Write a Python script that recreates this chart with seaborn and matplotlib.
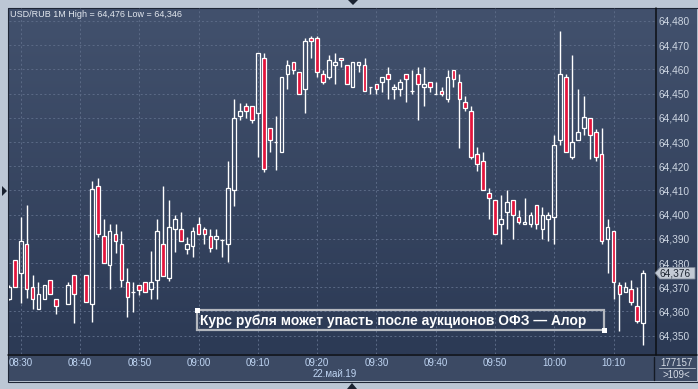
import matplotlib
matplotlib.use("Agg")
import matplotlib.pyplot as plt
import numpy as np
import pandas as pd
import seaborn as sns
from matplotlib.colors import LinearSegmentedColormap
from matplotlib.patches import Rectangle, Polygon

# ---------------- data ----------------
times = [
    "08:28", "08:29", "08:30", "08:31", "08:32", "08:33", "08:34", "08:35", "08:36", "08:38", "08:39",
    "08:41", "08:42", "08:43", "08:44", "08:45", "08:46", "08:47", "08:48", "08:49", "08:50",
    "08:51", "08:52", "08:53", "08:54", "08:55", "08:56", "08:57", "08:58", "08:59", "09:00",
    "09:01", "09:02", "09:03", "09:04", "09:05", "09:06", "09:07", "09:08", "09:09", "09:10",
    "09:11", "09:12", "09:13", "09:14", "09:15", "09:16", "09:17", "09:18", "09:19", "09:20",
    "09:21", "09:22", "09:23", "09:24", "09:25", "09:26", "09:27", "09:28", "09:29", "09:30",
    "09:31", "09:32", "09:33", "09:34", "09:35", "09:36", "09:37", "09:38", "09:39", "09:40",
    "09:41", "09:42", "09:43", "09:44", "09:45", "09:46", "09:47", "09:48", "09:49", "09:50",
    "09:51", "09:52", "09:53", "09:54", "09:55", "09:56", "09:57", "09:58", "09:59", "10:00",
    "10:01", "10:02", "10:03", "10:04", "10:05", "10:06", "10:07", "10:08", "10:09", "10:10",
    "10:11", "10:12", "10:13", "10:14", "10:15",
]
opens = [
    64.3651, 64.3812, 64.3759, 64.3879, 64.3701, 64.3610, 64.3651, 64.3730, 64.3651, 64.3631, 64.3750,
    64.3750, 64.3631, 64.4118, 64.3912, 64.3792, 64.3920, 64.3879, 64.3721, 64.3680, 64.3709,
    64.3721, 64.3693, 64.3730, 64.3879, 64.3738, 64.3940, 64.3940, 64.3858, 64.3870, 64.3961,
    64.3940, 64.3912, 64.3899, 64.3895, 64.3879, 64.4102, 64.4407, 64.4449, 64.4449, 64.4420,
    64.4647, 64.4358, 64.4300, 64.4259, 64.4581, 64.4631, 64.4589, 64.4519, 64.4730, 64.4730,
    64.4581, 64.4569, 64.4618, 64.4647, 64.4618, 64.4527, 64.4618, 64.4618, 64.4527, 64.4540,
    64.4548, 64.4581, 64.4519, 64.4519, 64.4581, 64.4511, 64.4581, 64.4527, 64.4548, 64.4498,
    64.4511, 64.4478, 64.4598, 64.4548, 64.4465, 64.4428, 64.4250, 64.4221, 64.4089, 64.4060,
    64.3961, 64.4011, 64.4060, 64.3990, 64.3961, 64.3961, 64.4040, 64.3940, 64.3982, 64.3990,
    64.4308, 64.4569, 64.4238, 64.4308, 64.4358, 64.4399, 64.4341, 64.4250, 64.3899, 64.3932,
    64.3709, 64.3680, 64.3693, 64.3622, 64.3552,
]
highs = [
    64.3709, 64.3812, 64.3990, 64.4040, 64.3750, 64.3721, 64.3709, 64.3730, 64.3651, 64.3721, 64.3750,
    64.3750, 64.4139, 64.4151, 64.3982, 64.3961, 64.3961, 64.3932, 64.3779, 64.3721, 64.3709,
    64.3721, 64.3850, 64.3982, 64.4118, 64.4060, 64.3998, 64.4011, 64.3907, 64.3949, 64.3990,
    64.3949, 64.3940, 64.3940, 64.3899, 64.4221, 64.4478, 64.4461, 64.4461, 64.4449, 64.4668,
    64.4668, 64.4358, 64.4407, 64.4569, 64.4639, 64.4631, 64.4589, 64.4730, 64.4738, 64.4738,
    64.4598, 64.4660, 64.4668, 64.4647, 64.4618, 64.4631, 64.4631, 64.4647, 64.4527, 64.4540,
    64.4569, 64.4610, 64.4540, 64.4560, 64.4581, 64.4598, 64.4610, 64.4610, 64.4548, 64.4548,
    64.4527, 64.4598, 64.4598, 64.4581, 64.4490, 64.4449, 64.4279, 64.4259, 64.4110, 64.4060,
    64.4081, 64.4102, 64.4060, 64.4019, 64.4069, 64.4011, 64.4040, 64.4031, 64.4011, 64.4329,
    64.4760, 64.4581, 64.4660, 64.4519, 64.4490, 64.4399, 64.4354, 64.4358, 64.3982, 64.3932,
    64.3721, 64.3721, 64.3730, 64.3701, 64.3771,
]
lows = [
    64.3647, 64.3701, 64.3635, 64.3656, 64.3610, 64.3610, 64.3651, 64.3672, 64.3589, 64.3631, 64.3552,
    64.3639, 64.3556, 64.3907, 64.3800, 64.3693, 64.3841, 64.3701, 64.3577, 64.3598, 64.3668,
    64.3680, 64.3651, 64.3651, 64.3746, 64.3726, 64.3845, 64.3891, 64.3837, 64.3825, 64.3920,
    64.3879, 64.3845, 64.3858, 64.3825, 64.3804, 64.4036, 64.4391, 64.4399, 64.4379, 64.4238,
    64.4176, 64.4259, 64.4184, 64.4259, 64.4519, 64.4581, 64.4498, 64.4420, 64.4647, 64.4569,
    64.4540, 64.4560, 64.4540, 64.4610, 64.4540, 64.4527, 64.4589, 64.4511, 64.4498, 64.4498,
    64.4507, 64.4478, 64.4478, 64.4490, 64.4465, 64.4498, 64.4391, 64.4449, 64.4507, 64.4498,
    64.4490, 64.4465, 64.4527, 64.4275, 64.4428, 64.4230, 64.4180, 64.4102, 64.3982, 64.3920,
    64.3879, 64.3940, 64.3899, 64.3961, 64.3961, 64.3949, 64.3940, 64.3899, 64.3891, 64.3879,
    64.4288, 64.4259, 64.4230, 64.4308, 64.4329, 64.4230, 64.4221, 64.3879, 64.3759, 64.3651,
    64.3519, 64.3680, 64.3626, 64.3552, 64.3460,
]
closes = [
    64.3701, 64.3701, 64.3891, 64.3693, 64.3651, 64.3672, 64.3709, 64.3672, 64.3622, 64.3709, 64.3672,
    64.3639, 64.4106, 64.3920, 64.3800, 64.3932, 64.3891, 64.3730, 64.3660, 64.3680, 64.3688,
    64.3680, 64.3721, 64.3932, 64.3746, 64.3949, 64.3982, 64.3891, 64.3879, 64.3932, 64.3920,
    64.3920, 64.3862, 64.3912, 64.3895, 64.4110, 64.4399, 64.4428, 64.4428, 64.4391, 64.4668,
    64.4188, 64.4308, 64.4300, 64.4569, 64.4618, 64.4598, 64.4498, 64.4717, 64.4717, 64.4589,
    64.4548, 64.4639, 64.4631, 64.4639, 64.4540, 64.4631, 64.4631, 64.4511, 64.4527, 64.4519,
    64.4569, 64.4560, 64.4527, 64.4548, 64.4560, 64.4511, 64.4540, 64.4540, 64.4527, 64.4498,
    64.4498, 64.4569, 64.4560, 64.4478, 64.4440, 64.4238, 64.4209, 64.4102, 64.4069, 64.3920,
    64.3982, 64.4052, 64.3998, 64.3969, 64.3969, 64.3998, 64.3961, 64.3998, 64.3998, 64.4288,
    64.4581, 64.4259, 64.4300, 64.4341, 64.4403, 64.4329, 64.4238, 64.3891, 64.3949, 64.3721,
    64.3672, 64.3701, 64.3639, 64.3560, 64.3760,
]

price_ticks = [64.35, 64.36, 64.37, 64.38, 64.39, 64.40, 64.41,
               64.42, 64.43, 64.44, 64.45, 64.46, 64.47, 64.48]
time_ticks = ["08:30", "08:40", "08:50", "09:00", "09:10", "09:20",
              "09:30", "09:40", "09:50", "10:00", "10:10"]
session_start = "08:28"
date_label = "22.май.19"
title_text = "USD/RUB 1M High = 64,476 Low = 64,346"
headline = "Курс рубля может упасть после аукционов ОФЗ — Алор"
last_price = 64.376
volume_text = "177157"
bars_text = ">109<"

# ---------------- style ----------------
sns.set_style("dark")
plt.rcParams["font.family"] = ["Liberation Sans", "DejaVu Sans"]


def minutes(t):
    h, m = t.split(":")
    return int(h) * 60 + int(m)


def fmt(v):
    return f"{v:.3f}".replace(".", ",")


df = pd.DataFrame({"time": times, "open": opens, "high": highs,
                   "low": lows, "close": closes})
df["x"] = df["time"].map(minutes) - minutes(session_start)
df["top"] = df[["open", "close"]].max(axis=1)
df["bot"] = df[["open", "close"]].min(axis=1)
df["up"] = df["close"] >= df["open"]

W, H = 698, 389
fig = plt.figure(figsize=(W / 100, H / 100), dpi=100)
fig.patch.set_facecolor("#bcc7d5")

# background (pixel coordinates)
bg = fig.add_axes([0, 0, 1, 1], zorder=-2)
bg.axis("off")
cmap = LinearSegmentedColormap.from_list("bgc", ["#42516d", "#2c3a55"])
bg.imshow(np.linspace(0, 1, 256).reshape(-1, 1), cmap=cmap,
          extent=(8, 697, 354, 8), aspect="auto", zorder=0)
bg.add_patch(Rectangle((8, 354), 689, 27, facecolor="#3c4a64", edgecolor="none", zorder=1))
bg.add_patch(Rectangle((7.5, 7.5), 690, 374, facecolor="none", edgecolor="#1e2636", lw=0.8, zorder=2))
bg.plot([655.5, 655.5], [8, 354.5], color="#0c0f14", lw=1.1, zorder=3)
bg.plot([8, 697], [354.5, 354.5], color="#0c0f14", lw=1.1, zorder=3)
bg.set_xlim(0, W)
bg.set_ylim(H, 0)

# main chart axes
ax = fig.add_axes([9 / W, 1 - 354 / H, 646 / W, 346 / H], zorder=1)
ax.set_facecolor("none")
ax.set_xlim(0.03, 109.0)
ax.set_ylim(64.34240, 64.48537)
ax.set_axisbelow(True)

tick_x = [minutes(t) - minutes(session_start) for t in time_ticks]
ax.set_xticks(tick_x)
ax.set_xticklabels(time_ticks)
ax.yaxis.tick_right()
ax.set_yticks(price_ticks)
ax.set_yticklabels([fmt(v) for v in price_ticks])
ax.grid(True, color="#5b6a86", lw=0.7, ls=(0, (2, 2.5)))
ax.tick_params(axis="y", length=0, pad=2.6, labelsize=7.3, labelcolor="#cdd6e2")
ax.tick_params(axis="x", length=0, pad=3.0, labelsize=7.0, labelcolor="#c0d6f4")
for s in ax.spines.values():
    s.set_visible(False)

# candles
ax.vlines(df["x"], df["top"], df["high"], color="white", lw=1.0, zorder=3)
ax.vlines(df["x"], df["low"], df["bot"], color="white", lw=1.0, zorder=3)
up = df[df["up"]]
dn = df[~df["up"]]
ax.bar(up["x"], up["close"] - up["open"], bottom=up["open"], width=0.62,
       facecolor="none", edgecolor="white", linewidth=0.9, zorder=4)
ax.bar(dn["x"], dn["open"] - dn["close"], bottom=dn["close"], width=0.62,
       facecolor="#e3143c", edgecolor="white", linewidth=0.9, zorder=4)

# overlay (pixel coordinates)
ov = fig.add_axes([0, 0, 1, 1], zorder=3)
ov.set_xlim(0, W)
ov.set_ylim(H, 0)
ov.axis("off")
ov.patch.set_alpha(0)

tt = ov.text(10, 14, title_text, ha="left", va="center", fontsize=7.2, color="#e2e7ee")
ov.text(313, 374, date_label, ha="left", va="center", fontsize=7.0, color="#c0d6f4")

ov.add_patch(Rectangle((197, 310), 407, 20, fill=False, edgecolor="#b3b7be", lw=1.6))
ov.add_patch(Rectangle((195, 308), 4.5, 4.5, facecolor="white", edgecolor="none"))
ov.add_patch(Rectangle((602, 328), 4.5, 4.5, facecolor="white", edgecolor="none"))
ht = ov.text(200, 320.5, headline, ha="left", va="center", fontsize=10,
             color="white", fontweight="bold")
fig.canvas.draw()
bb = ht.get_window_extent()
ht.set_fontsize(10 * 386 / bb.width)
tb = tt.get_window_extent()
tt.set_fontsize(7.2 * 173 / tb.width)

# last price marker
ov.add_patch(Polygon([(655, 273), (660, 267.5), (695, 267.5), (695, 279), (660, 279)],
                     closed=True, facecolor="#c3cad4", edgecolor="#7d8898", lw=0.6))
ov.text(659, 273.5, fmt(last_price), ha="left", va="center", fontsize=7.3, color="#1c2430")

# bottom-right info box
ov.plot([653.5, 653.5], [357, 380], color="#141a24", lw=1)
ov.text(676, 362.5, volume_text, ha="center", va="center", fontsize=7.0, color="#d6dce6")
ov.plot([659, 695], [368, 368], color="#aab4c2", lw=0.7)
ov.text(676, 374.5, bars_text, ha="center", va="center", fontsize=7.0, color="#d6dce6")

# border markers
for pts in ([(2, 186), (2, 196), (7, 191)],
            [(348, 0), (358, 0), (353, 5)],
            [(347, 389), (357, 389), (352, 383)]):
    ov.add_patch(Polygon(pts, closed=True, facecolor="#1a2230", edgecolor="none"))

fig.savefig("out.png", dpi=100, facecolor=fig.get_facecolor())
